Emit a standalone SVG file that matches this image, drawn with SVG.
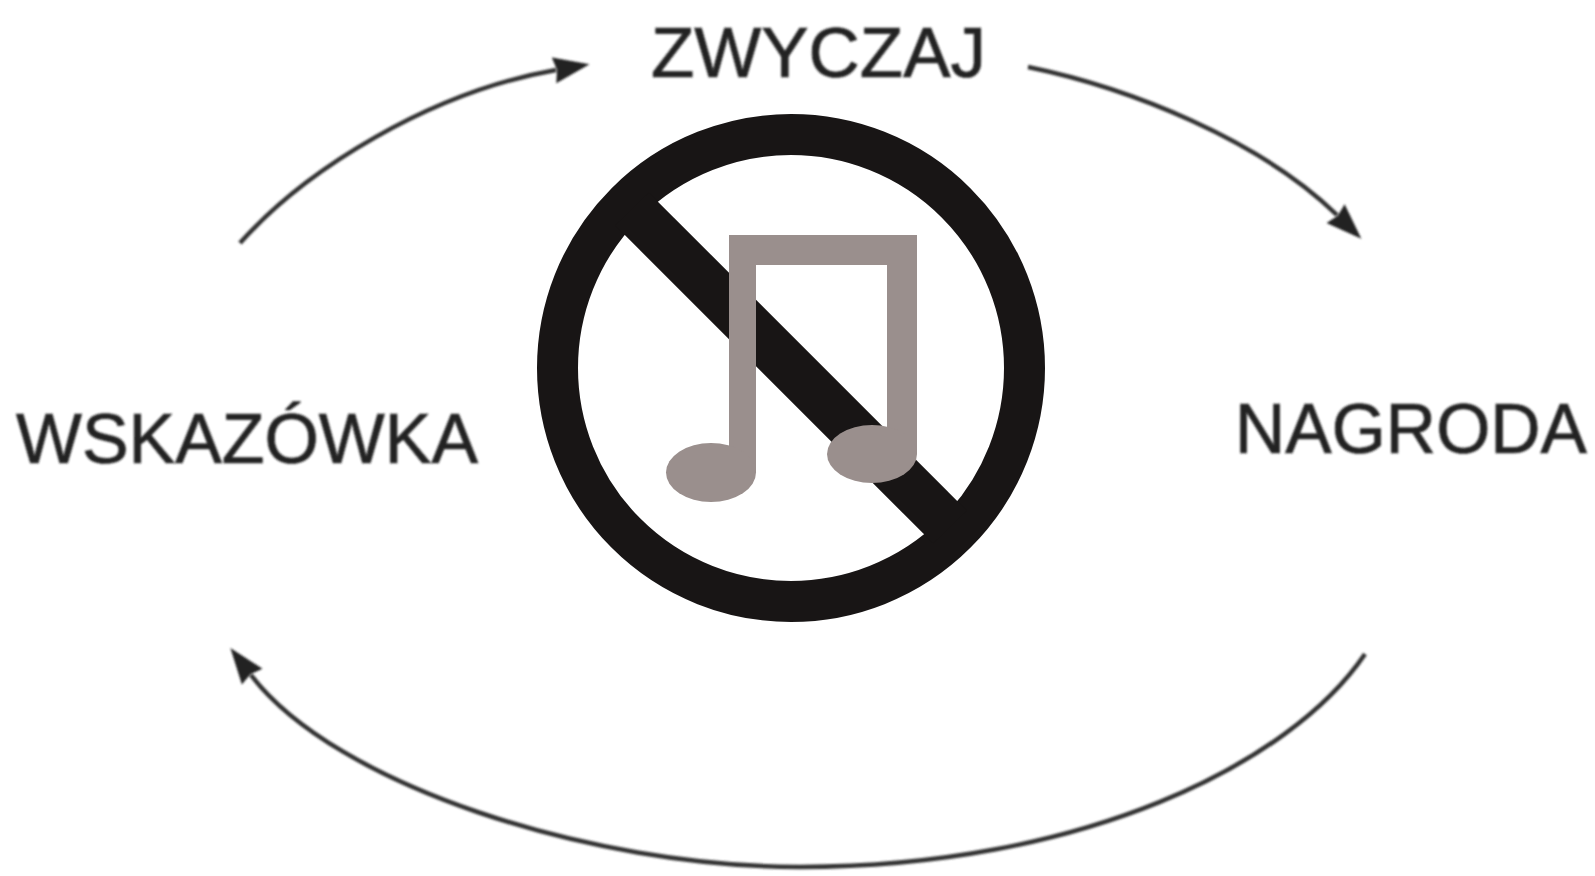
<svg xmlns="http://www.w3.org/2000/svg" width="1595" height="876" viewBox="0 0 1595 876">
<style>
.l{font-family:"Liberation Sans",Arial,sans-serif;font-size:70px;fill:#222;stroke:#222;stroke-width:.7}
.c{fill:none;stroke:#333;stroke-width:4.500}
.b{filter:url(#soft)}
</style>
<defs>
<filter id="soft" x="-5%" y="-5%" width="110%" height="110%"><feGaussianBlur stdDeviation="0.9"/></filter>
<marker id="a" markerUnits="userSpaceOnUse" markerWidth="44" markerHeight="30" refX="2" refY="15" orient="auto"><path d="M0 2L36 15L0 28L3 15Z" fill="#222"/></marker>
</defs>
<rect width="1595" height="876" fill="#fff"/>
<g id="connectors" class="b">
<path class="c" marker-end="url(#a)" d="M240 243C305 170 430 92 556 70"/>
<path class="c" marker-end="url(#a)" d="M1028 67C1130 88 1260 140 1337 215"/>
<path class="c" marker-end="url(#a)" d="M1365 654C1290 765 1080 867 800 867C590 867 335 785 251 675"/>
</g>
<g id="zwyczaj" class="b"><text class="l" x="651" y="77" textLength="335" lengthAdjust="spacingAndGlyphs">ZWYCZAJ</text></g>
<g id="wskazowka" class="b"><text class="l" x="16" y="463" textLength="462" lengthAdjust="spacingAndGlyphs">WSKAZÓWKA</text></g>
<g id="nagroda" class="b"><text class="l" x="1235" y="453" textLength="352" lengthAdjust="spacingAndGlyphs">NAGRODA</text></g>
<g id="zakaz">
<circle cx="791" cy="368" r="233.500" fill="none" stroke="#181515" stroke-width="41"/>
<path d="M632 209L950 527" stroke="#181515" stroke-width="47" fill="none"/>
</g>
<g id="nuta" fill="#9a8f8d">
<path d="M729 235H917V454H887V265H756V472H729Z"/>
<ellipse cx="711" cy="472.500" rx="45" ry="29.500"/>
<ellipse cx="872" cy="454" rx="45" ry="29"/>
</g>
</svg>
